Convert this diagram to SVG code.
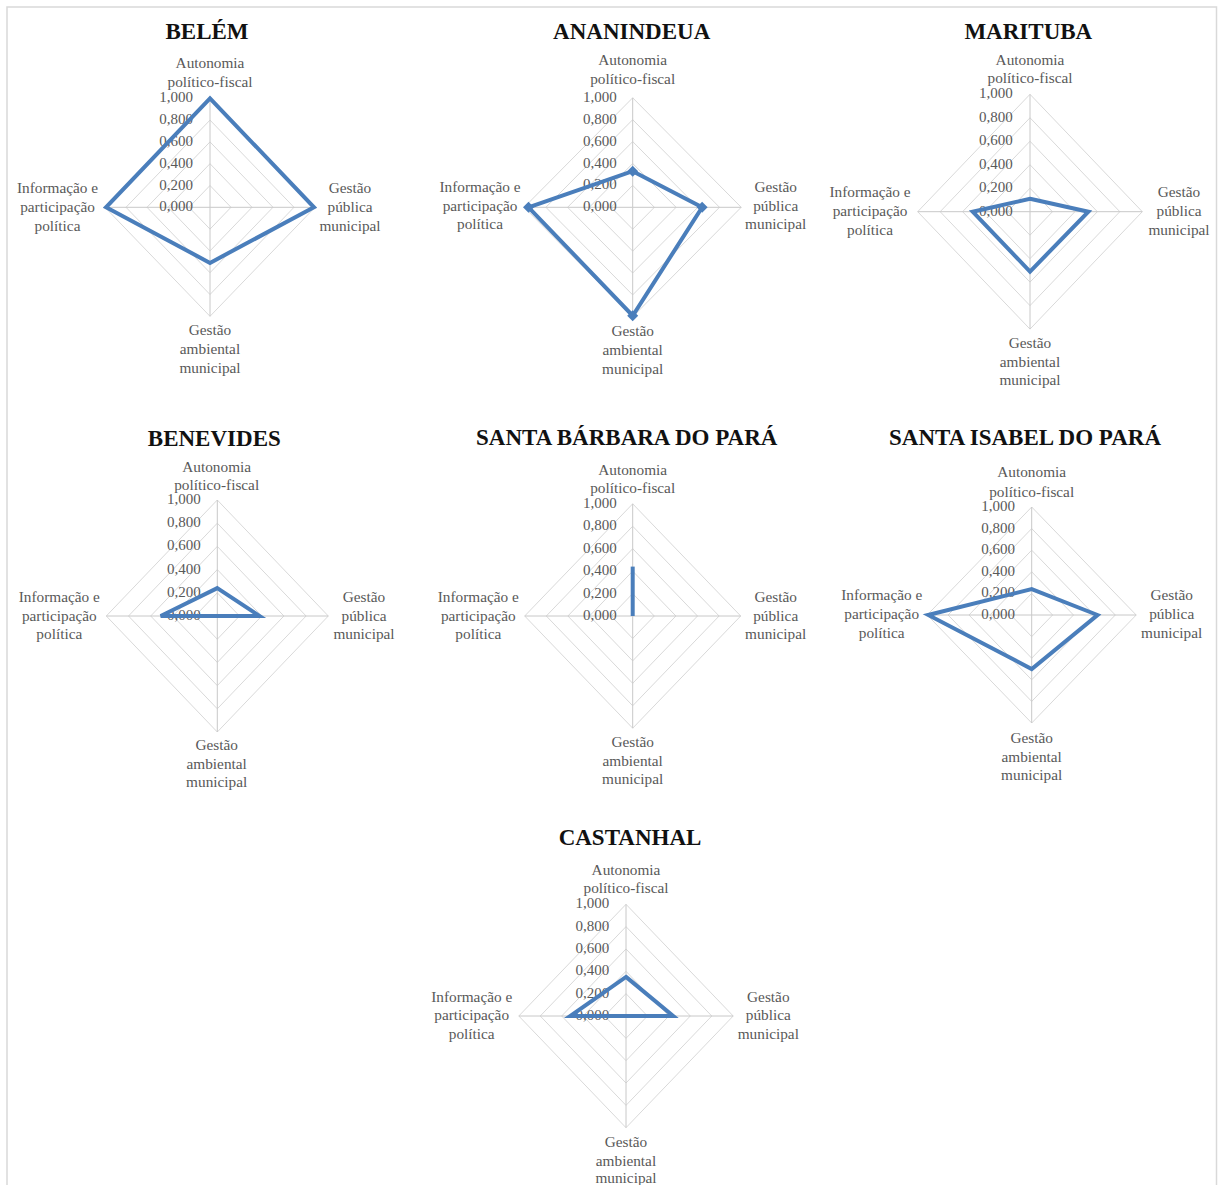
<svg xmlns="http://www.w3.org/2000/svg" xmlns:xlink="http://www.w3.org/1999/xlink" width="1219" height="1185" viewBox="0 0 1219 1185">
<style>
.ring{fill:none;stroke:#d9d9d9;stroke-width:1;vector-effect:non-scaling-stroke}
.spoke{fill:none;stroke:#c8c8c8;stroke-width:1;vector-effect:non-scaling-stroke}
.d{fill:none;stroke:#4a7ebb;stroke-width:4;stroke-linejoin:miter;vector-effect:non-scaling-stroke}
.mk{fill:#4a7ebb;stroke:none}
.t{font-family:"Liberation Serif","Times New Roman",serif;font-size:15.3px;fill:#595959;text-anchor:middle}
.k{font-family:"Liberation Serif","Times New Roman",serif;font-size:15px;fill:#595959;text-anchor:end}
.h{font-family:"Liberation Serif","Times New Roman",serif;font-size:23px;font-weight:bold;fill:#111;text-anchor:middle}
.frame{fill:none;stroke:#d9d9d9;stroke-width:1.5}
</style>
<defs>
<g id="grid">
<polygon class="ring" points="0,-20 20,0 0,20 -20,0"/>
<polygon class="ring" points="0,-40 40,0 0,40 -40,0"/>
<polygon class="ring" points="0,-60 60,0 0,60 -60,0"/>
<polygon class="ring" points="0,-80 80,0 0,80 -80,0"/>
<polygon class="ring" points="0,-100 100,0 0,100 -100,0"/>
<line class="spoke" x1="0" y1="0" x2="0" y2="-100"/>
<line class="spoke" x1="0" y1="0" x2="100" y2="0"/>
<line class="spoke" x1="0" y1="0" x2="0" y2="100"/>
<line class="spoke" x1="0" y1="0" x2="-100" y2="0"/>
</g>
</defs>
<rect width="1219" height="1185" fill="#ffffff"/>
<rect class="frame" x="7" y="7" width="1209.5" height="1200"/>

<g id="belem">
<text class="h" x="207" y="39.3">BELÉM</text>
<use xlink:href="#grid" href="#grid" transform="translate(210,207.3) scale(1.05,1.09)"/>
<g class="k"><text x="193" y="211.3">0,000</text><text x="193" y="189.5">0,200</text><text x="193" y="167.7">0,400</text><text x="193" y="145.9">0,600</text><text x="193" y="124.1">0,800</text><text x="193" y="102.3">1,000</text></g>
<text class="t" x="210" y="68">Autonomia</text><text class="t" x="210" y="87">político-fiscal</text>
<text class="t" x="350" y="192.5">Gestão</text><text class="t" x="350" y="211.5">pública</text><text class="t" x="350" y="230.5">municipal</text>
<text class="t" x="57.5" y="192.5">Informação e</text><text class="t" x="57.5" y="211.5">participação</text><text class="t" x="57.5" y="230.5">política</text>
<text class="t" x="210" y="335">Gestão</text><text class="t" x="210" y="353.5">ambiental</text><text class="t" x="210" y="372.5">municipal</text>
<polygon class="d" transform="translate(210,207.3) scale(1.05,1.09)" points="0,-100 99,0 0,51 -99,0"/>
</g>

<g id="ananindeua">
<text class="h" x="631.7" y="39.3">ANANINDEUA</text>
<use xlink:href="#grid" href="#grid" transform="translate(632.7,207.3) scale(1.085,1.095)"/>
<g class="k"><text x="616.7" y="211.3">0,000</text><text x="616.7" y="189.4">0,200</text><text x="616.7" y="167.5">0,400</text><text x="616.7" y="145.6">0,600</text><text x="616.7" y="123.7">0,800</text><text x="616.7" y="101.8">1,000</text></g>
<text class="t" x="632.7" y="65">Autonomia</text><text class="t" x="632.7" y="83.5">político-fiscal</text>
<text class="t" x="775.7" y="191.7">Gestão</text><text class="t" x="775.7" y="210.5">pública</text><text class="t" x="775.7" y="229.3">municipal</text>
<text class="t" x="480" y="191.7">Informação e</text><text class="t" x="480" y="210.5">participação</text><text class="t" x="480" y="229.3">política</text>
<text class="t" x="632.7" y="336">Gestão</text><text class="t" x="632.7" y="355">ambiental</text><text class="t" x="632.7" y="374">municipal</text>
<polygon class="d" transform="translate(632.7,207.3) scale(1.085,1.095)" points="0,-33 64,0 0,99 -96,0"/>
<polygon class="mk" points="632.7,165.7 638.2,171.2 632.7,176.7 627.2,171.2"/>
<polygon class="mk" points="702.1,201.8 707.6,207.3 702.1,212.8 696.6,207.3"/>
<polygon class="mk" points="632.7,310.2 638.2,315.7 632.7,321.2 627.2,315.7"/>
<polygon class="mk" points="528.5,201.8 534,207.3 528.5,212.8 523,207.3"/>
</g>

<g id="marituba">
<text class="h" x="1028.3" y="39.3">MARITUBA</text>
<use xlink:href="#grid" href="#grid" transform="translate(1030,211.7) scale(1.123,1.174)"/>
<g class="k"><text x="1012.7" y="215.7">0,000</text><text x="1012.7" y="192.2">0,200</text><text x="1012.7" y="168.7">0,400</text><text x="1012.7" y="145.3">0,600</text><text x="1012.7" y="121.8">0,800</text><text x="1012.7" y="98.3">1,000</text></g>
<text class="t" x="1030" y="65">Autonomia</text><text class="t" x="1030" y="83.3">político-fiscal</text>
<text class="t" x="1179" y="197.3">Gestão</text><text class="t" x="1179" y="216">pública</text><text class="t" x="1179" y="234.5">municipal</text>
<text class="t" x="870" y="197.3">Informação e</text><text class="t" x="870" y="216">participação</text><text class="t" x="870" y="234.5">política</text>
<text class="t" x="1030" y="348.3">Gestão</text><text class="t" x="1030" y="366.7">ambiental</text><text class="t" x="1030" y="385">municipal</text>
<polygon class="d" transform="translate(1030,211.7) scale(1.123,1.174)" points="0,-11 52,0 0,51 -51,0"/>
</g>

<g id="benevides">
<text class="h" x="214.3" y="446">BENEVIDES</text>
<use xlink:href="#grid" href="#grid" transform="translate(217.3,616) scale(1.11,1.16)"/>
<g class="k"><text x="200.7" y="620">0,000</text><text x="200.7" y="596.8">0,200</text><text x="200.7" y="573.6">0,400</text><text x="200.7" y="550.4">0,600</text><text x="200.7" y="527.2">0,800</text><text x="200.7" y="504">1,000</text></g>
<text class="t" x="216.7" y="471.7">Autonomia</text><text class="t" x="216.7" y="490">político-fiscal</text>
<text class="t" x="364" y="601.7">Gestão</text><text class="t" x="364" y="620.5">pública</text><text class="t" x="364" y="639.3">municipal</text>
<text class="t" x="59.3" y="601.7">Informação e</text><text class="t" x="59.3" y="620.5">participação</text><text class="t" x="59.3" y="639.3">política</text>
<text class="t" x="216.7" y="750">Gestão</text><text class="t" x="216.7" y="768.5">ambiental</text><text class="t" x="216.7" y="787.3">municipal</text>
<polygon class="d" transform="translate(217.3,616) scale(1.11,1.16)" points="0,-24 38,0 0,0 -51,0"/>
</g>

<g id="santa-barbara">
<text class="h" x="626.7" y="445">SANTA BÁRBARA DO PARÁ</text>
<use xlink:href="#grid" href="#grid" transform="translate(632.7,616) scale(1.08,1.122)"/>
<g class="k"><text x="616.7" y="620">0,000</text><text x="616.7" y="597.6">0,200</text><text x="616.7" y="575.1">0,400</text><text x="616.7" y="552.7">0,600</text><text x="616.7" y="530.2">0,800</text><text x="616.7" y="507.8">1,000</text></g>
<text class="t" x="632.7" y="475">Autonomia</text><text class="t" x="632.7" y="493.3">político-fiscal</text>
<text class="t" x="775.7" y="601.7">Gestão</text><text class="t" x="775.7" y="620.5">pública</text><text class="t" x="775.7" y="639.3">municipal</text>
<text class="t" x="478.3" y="601.7">Informação e</text><text class="t" x="478.3" y="620.5">participação</text><text class="t" x="478.3" y="639.3">política</text>
<text class="t" x="632.7" y="746.7">Gestão</text><text class="t" x="632.7" y="765.5">ambiental</text><text class="t" x="632.7" y="784">municipal</text>
<line class="d" x1="632.7" y1="616" x2="632.7" y2="566.6"/>
</g>

<g id="santa-isabel">
<text class="h" x="1025" y="445">SANTA ISABEL DO PARÁ</text>
<use xlink:href="#grid" href="#grid" transform="translate(1031.7,615) scale(1.045,1.08)"/>
<g class="k"><text x="1015" y="619">0,000</text><text x="1015" y="597.4">0,200</text><text x="1015" y="575.8">0,400</text><text x="1015" y="554.2">0,600</text><text x="1015" y="532.6">0,800</text><text x="1015" y="511">1,000</text></g>
<text class="t" x="1031.7" y="477.3">Autonomia</text><text class="t" x="1031.7" y="496.5">político-fiscal</text>
<text class="t" x="1171.7" y="600">Gestão</text><text class="t" x="1171.7" y="619">pública</text><text class="t" x="1171.7" y="637.7">municipal</text>
<text class="t" x="881.7" y="600">Informação e</text><text class="t" x="881.7" y="619">participação</text><text class="t" x="881.7" y="637.7">política</text>
<text class="t" x="1031.7" y="743.3">Gestão</text><text class="t" x="1031.7" y="761.7">ambiental</text><text class="t" x="1031.7" y="780">municipal</text>
<polygon class="d" transform="translate(1031.7,615) scale(1.045,1.08)" points="0,-24 63,0 0,50 -99,0"/>
</g>

<g id="castanhal">
<text class="h" x="630" y="845">CASTANHAL</text>
<use xlink:href="#grid" href="#grid" transform="translate(626,1016) scale(1.072,1.117)"/>
<g class="k"><text x="609.3" y="1020">0,000</text><text x="609.3" y="997.7">0,200</text><text x="609.3" y="975.3">0,400</text><text x="609.3" y="953">0,600</text><text x="609.3" y="930.6">0,800</text><text x="609.3" y="908.3">1,000</text></g>
<text class="t" x="626" y="875">Autonomia</text><text class="t" x="626" y="893.3">político-fiscal</text>
<text class="t" x="768.3" y="1001.7">Gestão</text><text class="t" x="768.3" y="1020">pública</text><text class="t" x="768.3" y="1039.3">municipal</text>
<text class="t" x="471.7" y="1001.7">Informação e</text><text class="t" x="471.7" y="1020">participação</text><text class="t" x="471.7" y="1039.3">política</text>
<text class="t" x="626" y="1146.7">Gestão</text><text class="t" x="626" y="1165.5">ambiental</text><text class="t" x="626" y="1183.3">municipal</text>
<polygon class="d" transform="translate(626,1016) scale(1.072,1.117)" points="0,-35 44,0 0,0 -52,0"/>
</g>
</svg>
